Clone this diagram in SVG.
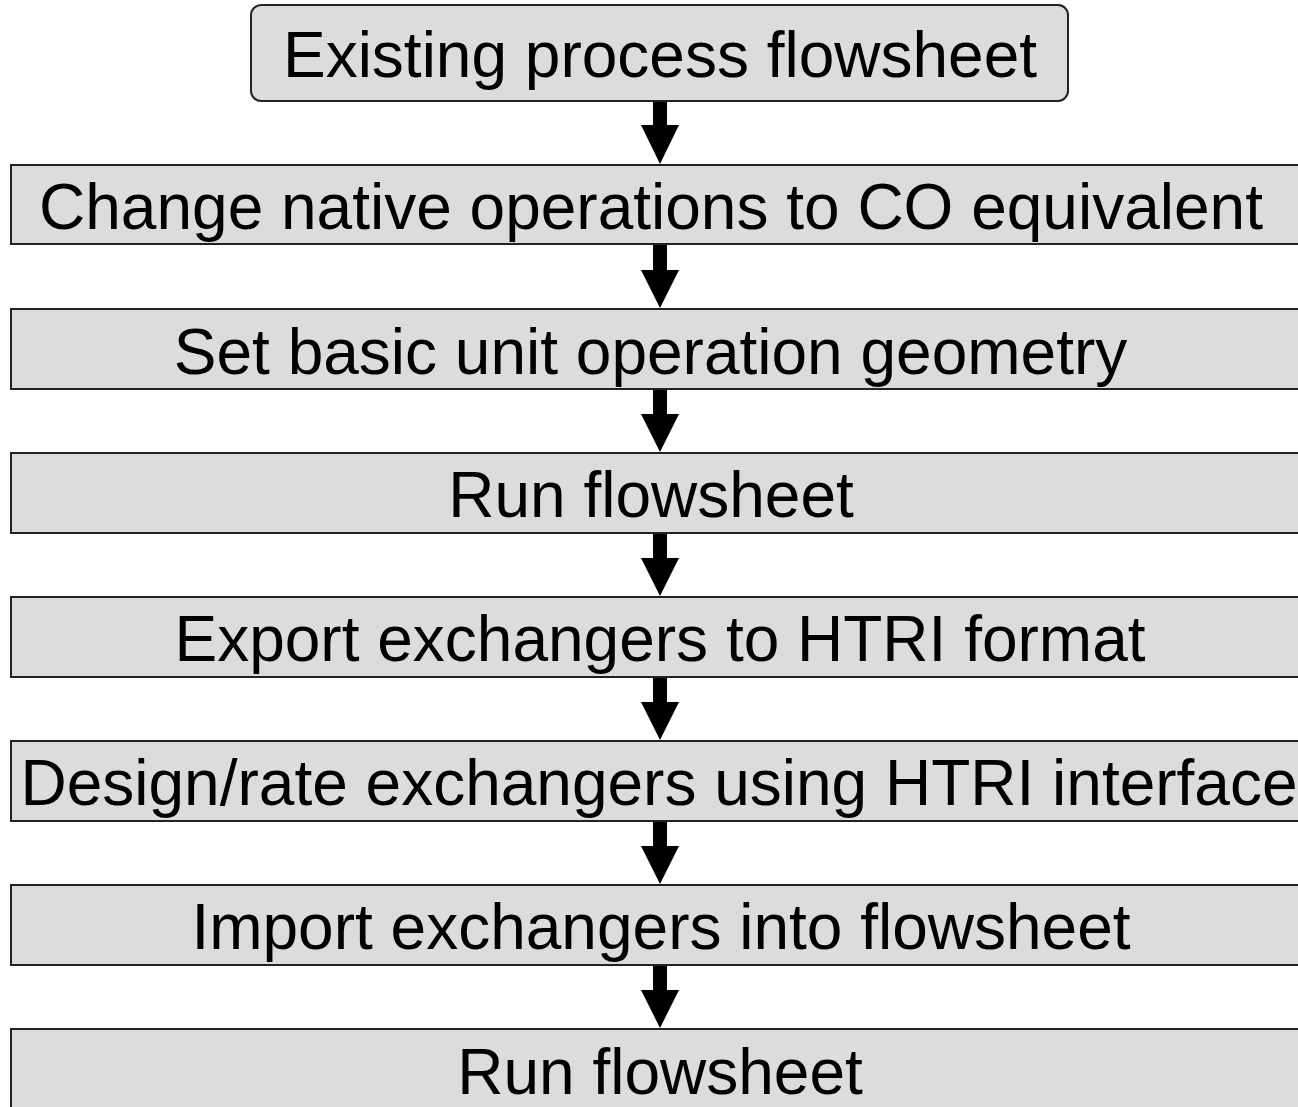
<svg xmlns="http://www.w3.org/2000/svg" width="1298" height="1107" viewBox="0 0 1298 1107">
<style>
.box{fill:#dcdcdc;stroke:#222;stroke-width:2}
.t{font-family:"Liberation Sans",Arial,sans-serif;font-size:64px;fill:#000;text-anchor:middle}
.arr{fill:#000}
</style>
<rect x="0" y="0" width="1298" height="1107" fill="#fff"/>
<g id="n1"><rect class="box" x="251" y="5" width="817" height="96" rx="10"/><text class="t" x="660" y="77">Existing process flowsheet</text></g>
<g id="n2"><rect class="box" x="11" y="165" width="1300" height="79"/><text class="t" x="651" y="229">Change native operations to CO equivalent</text></g>
<g id="n3"><rect class="box" x="11" y="309" width="1300" height="80"/><text class="t" x="650.5" y="374">Set basic unit operation geometry</text></g>
<g id="n4"><rect class="box" x="11" y="453" width="1300" height="80"/><text class="t" x="651" y="517">Run flowsheet</text></g>
<g id="n5"><rect class="box" x="11" y="597" width="1300" height="80"/><text class="t" x="660" y="661">Export exchangers to HTRI format</text></g>
<g id="n6"><rect class="box" x="11" y="741" width="1300" height="80"/><text class="t" x="659" y="805">Design/rate exchangers using HTRI interface</text></g>
<g id="n7"><rect class="box" x="11" y="885" width="1300" height="80"/><text class="t" x="661" y="949">Import exchangers into flowsheet</text></g>
<g id="n8"><rect class="box" x="11" y="1029" width="1300" height="90"/><text class="t" x="660" y="1094">Run flowsheet</text></g>
<g id="connectors">
<polygon class="arr" points="653,102 667,102 667,125 679,125 660,164 641,125 653,125"/>
<polygon class="arr" points="653,245 667,245 667,270 679,270 660,308 641,270 653,270"/>
<polygon class="arr" points="653,390 667,390 667,414 679,414 660,452 641,414 653,414"/>
<polygon class="arr" points="653,534 667,534 667,558 679,558 660,596 641,558 653,558"/>
<polygon class="arr" points="653,678 667,678 667,702 679,702 660,740 641,702 653,702"/>
<polygon class="arr" points="653,822 667,822 667,846 679,846 660,884 641,846 653,846"/>
<polygon class="arr" points="653,966 667,966 667,990 679,990 660,1028 641,990 653,990"/>
</g>
</svg>
